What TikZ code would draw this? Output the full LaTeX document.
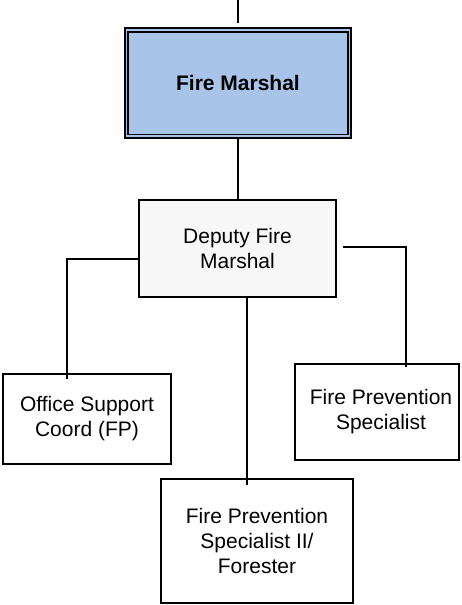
\documentclass[tikz,border=0pt]{standalone}
\usepackage{fontspec}
\setmainfont{Liberation Sans}
\definecolor{fmblue}{HTML}{A8C4E8}
\definecolor{depgray}{HTML}{F7F7F7}
\begin{document}
\begin{tikzpicture}[x=1pt,y=-1pt,
  box/.style={draw=black, line width=1.8pt, fill=white, rectangle, inner sep=0pt, align=center,
    font=\fontsize{21}{25}\selectfont},
  conn/.style={draw=black, line width=2pt}]
\useasboundingbox (0,0) rectangle (461,605);
\node[box, fill=fmblue, line width=1.6pt,
  minimum width=226pt, minimum height=110pt, font=\fontsize{21}{25}\selectfont\bfseries] (fm) at (238,83) {Fire Marshal};
\draw[line width=1.6pt] ([shift={(4pt,-4.5pt)}]fm.north west) rectangle ([shift={(-4pt,4.5pt)}]fm.south east);
\node[box, fill=depgray, minimum width=197pt, minimum height=97pt] (dep) at (237.5,248.5) {Deputy Fire\\Marshal};
\node[box, minimum width=168pt, minimum height=90pt] (off) at (87,419) {Office Support\\Coord (FP)};
\node[box, minimum width=164pt, minimum height=96pt] (fps) at (377,412) {\hspace*{8pt}Fire Prevention\\\hspace*{8pt}Specialist};
\node[box, minimum width=192pt, minimum height=124pt] (fps2) at (257,541) {Fire Prevention\\Specialist II/\\Forester};
\coordinate (top) at (238,0);
\coordinate (fmb) at (238,139);
\coordinate (l1) at (139,259);
\coordinate (l2) at (67,379);
\coordinate (r1) at (343,247);
\coordinate (r2) at (406,367);
\coordinate (m1) at (247,297);
\coordinate (m2) at (247,485);
\draw[conn] (top) -- ([yshift=4pt]fm.north);
\draw[conn] (fmb) -- (fmb |- dep.north);
\draw[conn] (l1) -| (l2);
\draw[conn] (r1) -| (r2);
\draw[conn] (m1) -- (m2);
\end{tikzpicture}
\end{document}
